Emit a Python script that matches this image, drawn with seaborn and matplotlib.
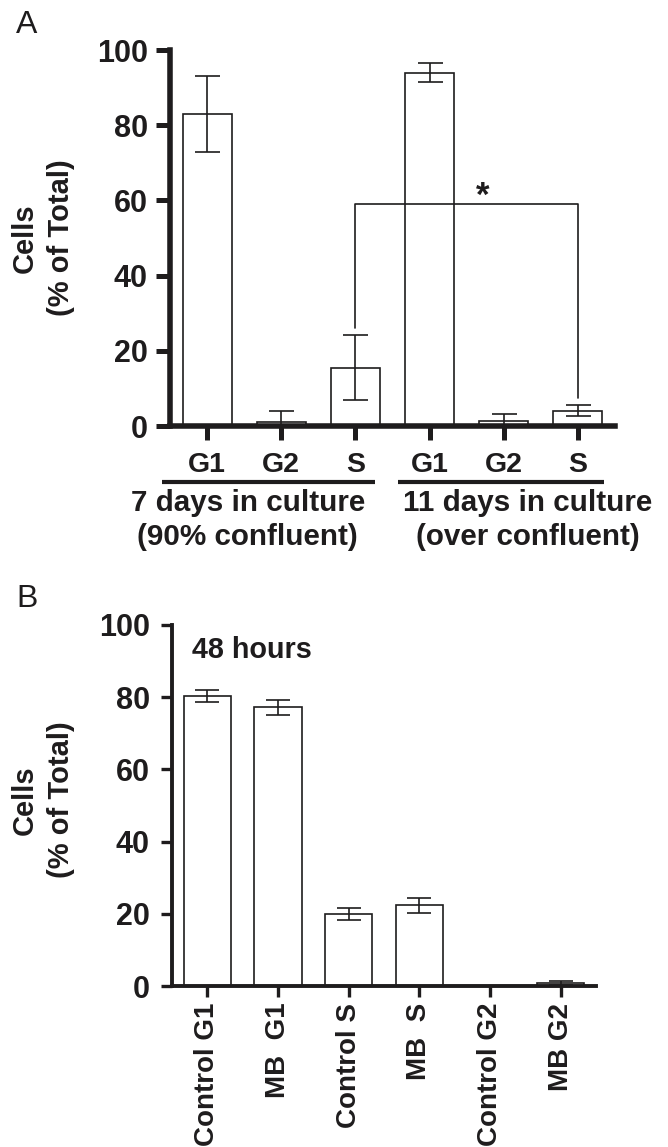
import numpy as np
import pandas as pd
import matplotlib
matplotlib.use("Agg")
import matplotlib.pyplot as plt
import seaborn as sns
from matplotlib.transforms import blended_transform_factory

# ---------------- data ----------------
# Panel A
a_keys = ["7d G1", "7d G2", "7d S", "11d G1", "11d G2", "11d S"]
a_phases = ["G1", "G2", "S", "G1", "G2", "S"]
a_means = [83.0, 1.0, 15.5, 94.0, 1.3, 4.1]
a_err = [10.0, 3.0, 8.7, 2.5, 2.0, 1.5]
a_group_line1 = ["7 days in culture", "11 days in culture"]
a_group_line2 = ["(90% confluent)", "(over confluent)"]
a_sig_left, a_sig_right = 2, 5
a_sig_y, a_sig_left_end, a_sig_right_end = 59.0, 26.0, 7.4

# Panel B
b_labels = ["Control G1", "MB  G1", "Control S", "MB  S", "Control G2", "MB G2"]
b_means = [80.3, 77.2, 20.0, 22.4, 0.0, 0.9]
b_err = [1.7, 2.0, 1.6, 2.1, 0.0, 0.6]

y_ticks = [0, 20, 40, 60, 80, 100]

# ---------------- style ----------------
sns.set_style("ticks")
plt.rcParams["font.family"] = ["Liberation Sans", "DejaVu Sans"]
plt.rcParams["font.weight"] = "bold"
INK = "#1e1c1d"

fig = plt.figure(figsize=(6.68, 11.47), dpi=100)
W, H = 668, 1147

def px_axes(l, r, b, t):
    return fig.add_axes([l / W, 1 - b / H, (r - l) / W, (b - t) / H])

# ---------------- Panel A ----------------
axA = px_axes(170, 615, 426, 50)
dfA = pd.DataFrame({"key": a_keys, "mean": a_means})
sns.barplot(data=dfA, x="key", y="mean", order=a_keys, color="white", saturation=1,
            edgecolor=INK, linewidth=1.2, width=0.66, errorbar=None, ax=axA, zorder=2)
xa = np.arange(len(a_keys))
axA.errorbar(xa, a_means, yerr=a_err, fmt="none", ecolor=INK, elinewidth=1.2,
             capsize=9, capthick=1.2, zorder=3)
axA.set_xlim(-0.5, 5.5)
axA.set_ylim(0, 100)
axA.set_yticks(y_ticks)
axA.set_xticks(xa)
axA.set_xticklabels(a_phases, fontsize=20.5, fontweight="bold")
axA.set_yticklabels([str(t) for t in y_ticks], fontsize=22, fontweight="bold")
axA.set_xlabel("")
axA.set_ylabel("")
sns.despine(ax=axA)
for s in ["left", "bottom"]:
    axA.spines[s].set_linewidth(4.0)
    axA.spines[s].set_color(INK)
axA.tick_params(axis="both", width=3.6, length=10, color=INK, labelcolor=INK)
axA.tick_params(axis="x", pad=9)
axA.tick_params(axis="y", pad=6)

# significance bracket
axA.plot([a_sig_left, a_sig_left, a_sig_right, a_sig_right],
         [a_sig_left_end, a_sig_y, a_sig_y, a_sig_right_end],
         color=INK, lw=1.2, zorder=4)
axA.text(3.72, a_sig_y - 2.2, "*", ha="center", va="bottom", fontsize=25,
         fontweight="bold", color=INK)

# group underlines and labels
trA = blended_transform_factory(axA.transData, axA.transAxes)
for (x0, x1) in [(-0.61, 2.26), (2.58, 5.35)]:
    axA.plot([x0, x1], [-0.149, -0.149], color=INK, lw=3.0, transform=trA,
             clip_on=False, solid_capstyle="butt")
for xc, l1, l2 in zip([0.55, 4.32], a_group_line1, a_group_line2):
    axA.text(xc, -0.205, l1, transform=trA, ha="center", va="center",
             fontsize=21.3, fontweight="bold", color=INK)
    axA.text(xc, -0.295, l2, transform=trA, ha="center", va="center",
             fontsize=21.3, fontweight="bold", color=INK)

axA.text(-0.286, 0.5, "Cells\n(% of Total)", transform=axA.transAxes, rotation=90,
         ha="center", va="center", multialignment="center", fontsize=21,
         fontweight="bold", color=INK, linespacing=1.35)

# ---------------- Panel B ----------------
axB = px_axes(172, 596, 986, 625)
dfB = pd.DataFrame({"label": b_labels, "mean": b_means})
sns.barplot(data=dfB, x="label", y="mean", order=b_labels, color="white", saturation=1,
            edgecolor=INK, linewidth=1.2, width=0.67, errorbar=None, ax=axB, zorder=2)
xb = np.arange(len(b_labels))
axB.errorbar(xb, b_means, yerr=b_err, fmt="none", ecolor=INK, elinewidth=1.2,
             capsize=8.5, capthick=1.2, zorder=3)
axB.set_xlim(-0.5, 5.5)
axB.set_ylim(0, 100)
axB.set_yticks(y_ticks)
axB.set_xticks(xb)
axB.set_xticklabels(b_labels, rotation=90, fontsize=20, fontweight="bold")
axB.set_yticklabels([str(t) for t in y_ticks], fontsize=22, fontweight="bold")
axB.set_xlabel("")
axB.set_ylabel("")
sns.despine(ax=axB)
for s in ["left", "bottom"]:
    axB.spines[s].set_linewidth(2.8)
    axB.spines[s].set_color(INK)
axB.tick_params(axis="both", width=2.4, length=8, color=INK, labelcolor=INK)
axB.tick_params(axis="x", pad=4)
axB.tick_params(axis="y", pad=8)

axB.text(-0.21, 93, "48 hours", ha="left", va="center", fontsize=20.7,
         fontweight="bold", color=INK)
axB.text(-0.305, 0.515, "Cells\n(% of Total)", transform=axB.transAxes, rotation=90,
         ha="center", va="center", multialignment="center", fontsize=21,
         fontweight="bold", color=INK, linespacing=1.35)

# panel letters
fig.text(16 / W, 1 - 33 / H, "A", fontsize=23, fontweight="normal", color=INK,
         ha="left", va="baseline")
fig.text(16 / W, 1 - 607 / H, "B", fontsize=23, fontweight="normal", color=INK,
         ha="left", va="baseline")

fig.savefig("out.png", dpi=100, facecolor="white")
